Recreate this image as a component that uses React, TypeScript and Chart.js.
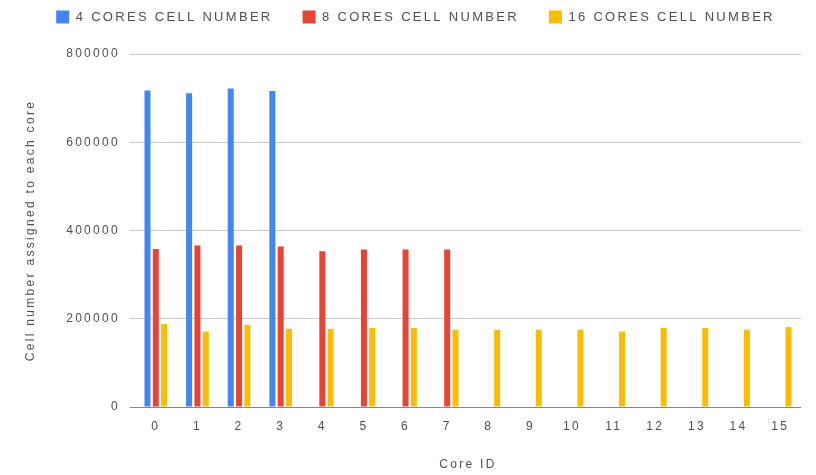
import React, { useEffect, useRef } from "react";
import { Chart, registerables } from "chart.js";

Chart.register(...registerables);

const categories = ["0", "1", "2", "3", "4", "5", "6", "7", "8", "9", "10", "11", "12", "13", "14", "15"];
const cores4 = [717000, 711000, 722000, 716000, null, null, null, null, null, null, null, null, null, null, null, null];
const cores8 = [358000, 366000, 366000, 364000, 353000, 357000, 357000, 357000, null, null, null, null, null, null, null, null];
const cores16 = [188000, 171000, 186000, 177000, 177000, 179000, 179000, 175000, 175000, 175000, 175000, 171000, 179000, 179000, 175000, 181000];
const seriesNames = ["4 CORES CELL NUMBER", "8 CORES CELL NUMBER", "16 CORES CELL NUMBER"];
const seriesColors = ["#4285F4", "#EA4335", "#FBBC04"];
const yTicks = [0, 200000, 400000, 600000, 800000];

const LETTER_SPACING = "2.3px";
const FONT = "'Liberation Sans', Arial, sans-serif";
const TEXT_COLOR = "#505050";

const spacingPlugin = {
  id: "spacingPlugin",
  beforeUpdate(chart: any) {
    chart.ctx.letterSpacing = LETTER_SPACING;
  },
  beforeLayout(chart: any) {
    chart.ctx.letterSpacing = LETTER_SPACING;
    const lg = chart.legend;
    if (lg && !lg.__patched) {
      const orig = lg.fit;
      lg.fit = function () {
        orig.call(this);
        this.height += 20.5;
      };
      lg.__patched = true;
    }
  },
  afterLayout(chart: any) {
    const lg = chart.legend;
    if (lg) {
      lg.left += 11;
      lg.right += 11;
    }
  },
  beforeDraw(chart: any) {
    chart.ctx.letterSpacing = LETTER_SPACING;
  },
};

export default function App() {
  const ref = useRef<HTMLCanvasElement | null>(null);
  useEffect(() => {
    if (!ref.current) return;
    const chart = new Chart(ref.current, {
      type: "bar",
      data: {
        labels: categories,
        datasets: [
          { label: seriesNames[0], data: cores4, backgroundColor: seriesColors[0] },
          { label: seriesNames[1], data: cores8, backgroundColor: seriesColors[1] },
          { label: seriesNames[2], data: cores16, backgroundColor: seriesColors[2] },
        ],
      },
      plugins: [spacingPlugin],
      options: {
        animation: false,
        responsive: true,
        maintainAspectRatio: false,
        layout: { padding: { top: -27.5, right: 7, left: 0, bottom: 0 } },
        datasets: { bar: { categoryPercentage: 0.6, barPercentage: 0.72 } },
        plugins: {
          tooltip: { enabled: false },
          legend: {
            position: "top",
            labels: {
              boxWidth: 13,
              boxHeight: 13,
              padding: 30,
              color: TEXT_COLOR,
              font: { family: FONT, size: 13 },
            },
          },
        },
        scales: {
          x: {
            grid: { display: false, drawTicks: false },
            border: { display: false },
            ticks: { color: TEXT_COLOR, padding: 12, font: { family: FONT, size: 12 } },
            title: {
              display: true,
              text: "Core ID",
              color: TEXT_COLOR,
              font: { family: FONT, size: 12 },
              padding: { top: 20, bottom: 3 },
            },
            afterFit(scale: any) {
              scale.height = 68;
            },
          },
          y: {
            min: 0,
            max: 800000,
            border: { display: false },
            grid: {
              color: (ctx: any) => (ctx.tick && ctx.tick.value === 0 ? "#888" : "#cccccc"),
              tickLength: 5,
              drawTicks: true,
            },
            afterBuildTicks(scale: any) {
              scale.ticks = yTicks.map((v) => ({ value: v }));
            },
            ticks: {
              color: TEXT_COLOR,
              padding: 10,
              font: { family: FONT, size: 12 },
              callback: (v: any) => String(v),
            },
            title: {
              display: true,
              text: "Cell number assigned to each core",
              color: TEXT_COLOR,
              font: { family: FONT, size: 12 },
              padding: { top: 15, bottom: 0 },
            },
            afterFit(scale: any) {
              scale.width = 127;
            },
          },
        },
      },
    });
    return () => chart.destroy();
  }, []);
  return (
    <div style={{ position: "absolute", left: 8, top: 8, width: 800, height: 467 }}>
      <canvas ref={ref} />
    </div>
  );
}
